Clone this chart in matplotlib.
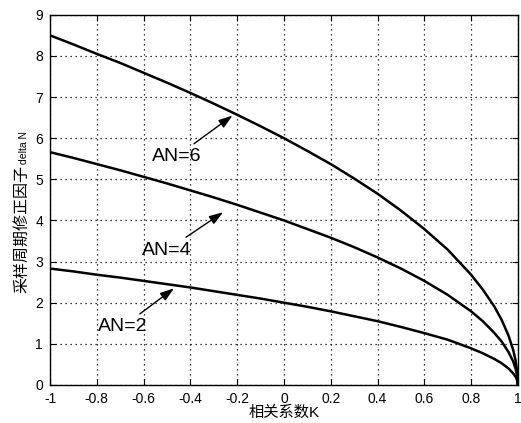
import matplotlib
matplotlib.use("Agg")
import matplotlib.pyplot as plt

plt.rcParams['font.family'] = ['Liberation Sans', 'Noto Sans CJK SC', 'DejaVu Sans']

# values
k = [-1.0, -0.9, -0.8, -0.7, -0.6, -0.5, -0.4, -0.3, -0.2, -0.1, 0.0,
     0.1, 0.2, 0.3, 0.4, 0.5, 0.6, 0.7, 0.8, 0.85, 0.9, 0.93, 0.96, 0.98, 0.99, 0.997, 1.0]
dn_an6 = [8.5, 8.28, 8.05, 7.83, 7.59, 7.35, 7.1, 6.84, 6.57, 6.29, 6.0,
          5.69, 5.37, 5.02, 4.65, 4.24, 3.79, 3.29, 2.68, 2.32, 1.9, 1.59, 1.2, 0.85, 0.6, 0.33, 0.0]
dn_an4 = [5.66, 5.52, 5.37, 5.22, 5.06, 4.9, 4.73, 4.56, 4.38, 4.19, 4.0,
          3.79, 3.58, 3.35, 3.1, 2.83, 2.53, 2.19, 1.79, 1.55, 1.26, 1.06, 0.8, 0.57, 0.4, 0.22, 0.0]
dn_an2 = [2.83, 2.76, 2.68, 2.61, 2.53, 2.45, 2.37, 2.28, 2.19, 2.1, 2.0,
          1.9, 1.79, 1.67, 1.55, 1.41, 1.26, 1.1, 0.89, 0.77, 0.63, 0.53, 0.4, 0.28, 0.2, 0.11, 0.0]

xticks = [-1, -0.8, -0.6, -0.4, -0.2, 0, 0.2, 0.4, 0.6, 0.8, 1]
xticklabels = ['-1', '-0.8', '-0.6', '-0.4', '-0.2', '0', '0.2', '0.4', '0.6', '0.8', '1']
yticks = list(range(10))

fig = plt.figure(figsize=(5.21, 4.23), dpi=100)
ax = fig.add_axes([0.096, 0.09, 0.898, 0.875])

for y in (dn_an6, dn_an4, dn_an2):
    ax.plot(k, y, color='black', lw=1.8)

ax.set_xlim(-1, 1)
ax.set_ylim(0, 9)
ax.set_xticks(xticks)
ax.set_xticklabels(xticklabels)
ax.set_yticks(yticks)
ax.tick_params(direction='in', top=True, right=True, labelsize=10, length=4, pad=5)
ax.grid(True, color='black', linestyle=(0, (1, 3)), lw=0.9)
for s in ax.spines.values():
    s.set_linewidth(1.0)

# annotations
arrow = dict(arrowstyle='-|>,head_length=0.6,head_width=0.2', color='black', lw=1.0, shrinkA=2, shrinkB=0)
ax.annotate('AN=6', xy=(-0.22, 6.55), xytext=(-0.46, 5.55),
            fontsize=14, ha='center', va='center', arrowprops=arrow)
ax.annotate('AN=4', xy=(-0.26, 4.2), xytext=(-0.5, 3.28),
            fontsize=14, ha='center', va='center', arrowprops=arrow)
ax.annotate('AN=2', xy=(-0.47, 2.35), xytext=(-0.69, 1.41),
            fontsize=14, ha='center', va='center', arrowprops=arrow)

fig.text(0.545, 0.008, '相关系数K', ha='center', va='bottom', fontsize=11)
fig.text(0.042, 0.307, '采样周期修正因子', rotation=90, ha='center', va='bottom', fontsize=11.5)
fig.text(0.046, 0.613, 'delta N', rotation=90, ha='center', va='bottom', fontsize=7.5)

fig.savefig('out.png', dpi=100)
